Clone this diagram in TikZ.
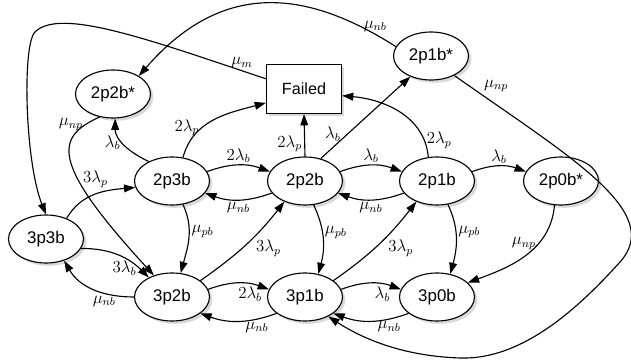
\documentclass[tikz,border=0pt]{standalone}
\usepackage{fontspec}
\setsansfont{Liberation Sans}
\usetikzlibrary{arrows.meta,shapes.geometric,shadows}

\begin{document}
\begin{tikzpicture}[x=0.025cm,y=0.025cm,
        state/.style={ellipse,draw,line width=0.8pt,fill=white,minimum width=1.875cm,minimum height=1.2cm,inner sep=0pt,font=\sffamily\fontsize{12}{14}\selectfont,drop shadow={shadow xshift=2pt,shadow yshift=-2pt,opacity=0.3}},
        failbox/.style={rectangle,draw,line width=0.8pt,fill=white,minimum width=1.875cm,minimum height=1.225cm,inner sep=0pt,font=\sffamily\fontsize{11.5}{14}\selectfont,drop shadow={shadow xshift=2pt,shadow yshift=-2pt,opacity=0.3}},
        arr/.style={-{Triangle[length=8pt,width=5.5pt]},line width=0.8pt},
        lbl/.style={font=\fontsize{12}{14}\selectfont,inner sep=1.5pt}]
            \useasboundingbox (0,0) rectangle (631,362);

            \node[state] (n2p2bs) at (113,268) {2p2b*};
            \node[failbox] (failed) at (304,273) {Failed};
            \node[state] (n2p1bs) at (431,306) {2p1b*};
            \node[state] (n2p3b) at (172,181) {2p3b};
            \node[state] (n2p2b) at (305,181) {2p2b};
            \node[state] (n2p1b) at (437,181) {2p1b};
            \node[state] (n2p0bs) at (561,181) {2p0b*};
            \node[state] (n3p3b) at (46,123) {3p3b};
            \node[state] (n3p2b) at (172,65) {3p2b};
            \node[state] (n3p1b) at (305,65) {3p1b};
            \node[state] (n3p0b) at (437,65) {3p0b};

            \draw[arr] (n2p3b.140) to[out=155,in=-90] node[lbl,left,pos=0.55] {$\lambda_b$} (n2p2bs.-85);
            \draw[arr] (n2p3b.65) to[out=75,in=195] node[lbl,left,pos=0.35] {$2\lambda_p$} (failed.-160);
            \draw[arr] (n2p3b.15) to[bend left=20] node[lbl,above] {$2\lambda_b$} (n2p2b.165);
            \draw[arr] (n2p2b.-160) to[bend left=20] node[lbl,below] {$\mu_{nb}$} (n2p3b.-20);
            \draw[arr] (n2p2b.north) -- node[lbl,left,pos=0.3] {$2\lambda_p$} (failed.south);
            \draw[arr] (n2p2b.55) -- node[lbl,left=3pt,pos=0.3] {$\lambda_b$} (n2p1bs.-135);
            \draw[arr] (n2p2b.15) to[bend left=20] node[lbl,above] {$\lambda_b$} (n2p1b.165);
            \draw[arr] (n2p1b.-160) to[bend left=20] node[lbl,below] {$\mu_{nb}$} (n2p2b.-20);
            \draw[arr] (n2p1b.110) to[out=95,in=-5] node[lbl,right,pos=0.15] {$2\lambda_p$} (failed.-10);
            \draw[arr] (n2p1b.15) to[bend left=20] node[lbl,above] {$\lambda_b$} (n2p0bs.165);

            \draw[arr] (n2p1bs.165) .. controls (310,370) and (225,385) .. (n2p2bs.35) node[lbl,above,pos=0.08] {$\mu_{nb}$};
            \draw[arr] (failed.165) .. controls (150,322) and (60,355) .. (35,330) node[lbl,above,pos=0.07] {$\mu_m$} .. controls (22,317) and (25,200) .. (n3p3b.north);
            \draw[arr] (n2p1bs.-40) .. controls (570,205) and (665,150) .. (620,100) node[lbl,above right,pos=0.08] {$\mu_{np}$} .. controls (575,50) and (520,2) .. (460,4) .. controls (400,6) and (360,25) .. (n3p1b.-40);
            \draw[arr] (n2p2bs.-120) .. controls (55,225) and (50,200) .. (n3p2b.130) node[lbl,left,pos=0.12] {$\mu_{np}$};

            \draw[arr] (n3p3b.45) to[out=60,in=185] node[lbl,above,pos=0.5,yshift=3pt] {$3\lambda_p$} (n2p3b.190);
            \draw[arr] (n3p3b.-15) to[out=0,in=135] node[lbl,below,pos=0.6] {$3\lambda_b$} (n3p2b.140);
            \draw[arr] (n3p2b.180) to[out=180,in=-60] node[lbl,below,pos=0.35] {$\mu_{nb}$} (n3p3b.-50);
            \draw[arr] (n2p3b.-65) to[out=-65,in=75] node[lbl,right,pos=0.4] {$\mu_{pb}$} (n3p2b.70);
            \draw[arr] (n3p2b.30) to[out=35,in=-128] node[lbl,below right,pos=0.6] {$3\lambda_p$} (n2p2b.-135);
            \draw[arr] (n3p2b.12) to[bend left=20] node[lbl,below,pos=0.7] {$2\lambda_b$} (n3p1b.168);
            \draw[arr] (n3p1b.-150) to[bend left=20] node[lbl,below,pos=0.25] {$\mu_{nb}$} (n3p2b.-30);
            \draw[arr] (n2p2b.-70) to[out=-65,in=75] node[lbl,right,pos=0.4] {$\mu_{pb}$} (n3p1b.60);
            \draw[arr] (n3p1b.30) to[out=35,in=-128] node[lbl,below right,pos=0.6] {$3\lambda_p$} (n2p1b.-135);
            \draw[arr] (n3p1b.12) to[bend left=20] node[lbl,below,pos=0.7] {$\lambda_b$} (n3p0b.168);
            \draw[arr] (n3p0b.-150) to[bend left=20] node[lbl,below,pos=0.25] {$\mu_{nb}$} (n3p1b.-30);
            \draw[arr] (n2p1b.-65) to[out=-65,in=75] node[lbl,right,pos=0.4] {$\mu_{pb}$} (n3p0b.60);
            \draw[arr] (n2p0bs.-105) to[out=-95,in=20] node[lbl,left,pos=0.35] {$\mu_{np}$} (n3p0b.25);
        \end{tikzpicture}
\end{document}
